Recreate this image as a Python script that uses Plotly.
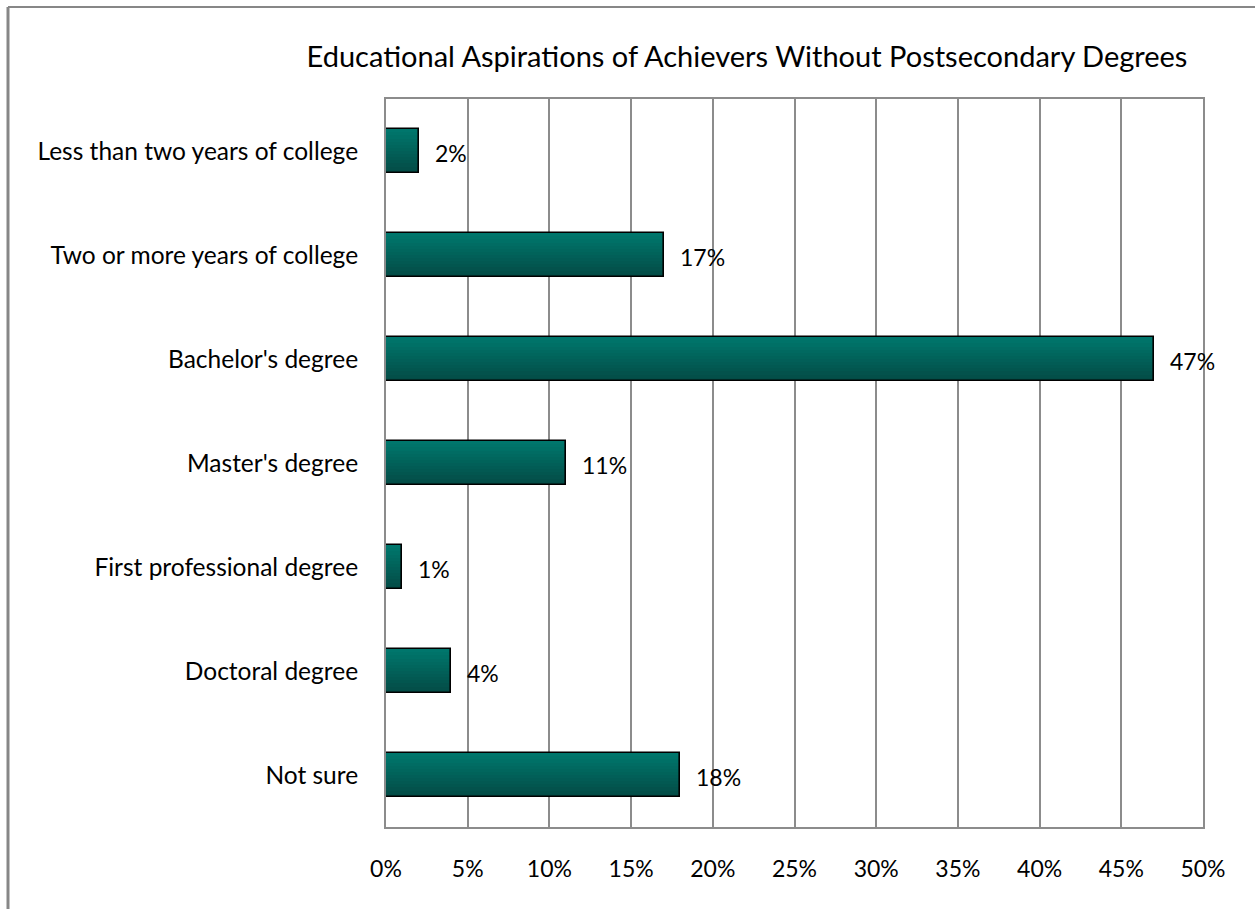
import plotly.graph_objects as go

categories = [
    "Less than two years of college",
    "Two or more years of college",
    "Bachelor's degree",
    "Master's degree",
    "First professional degree",
    "Doctoral degree",
    "Not sure",
]
values = [2, 17, 47, 11, 1, 4, 18]
x_ticks = [0, 5, 10, 15, 20, 25, 30, 35, 40, 45, 50]
x_tick_labels = [f"{t}%" for t in x_ticks]
title_text = "Educational Aspirations of Achievers Without Postsecondary Degrees"

FONT = "Lato, 'Open Sans', sans-serif"
GRID = "#8c8c8c"

# Vertical gradient: bars are built from thin stacked bands (lighter at top)
top_rgb = (0, 118, 108)
bot_rgb = (3, 76, 70)
n_bands = 14
bar_w = 0.42

fig = go.Figure()
for i in range(n_bands):
    t = i / (n_bands - 1)
    r, g, b = (round(a + (c - a) * t) for a, c in zip(top_rgb, bot_rgb))
    fig.add_trace(go.Bar(
        x=values, y=categories, orientation="h",
        width=bar_w / n_bands + 0.002,
        offset=-bar_w / 2 + i * bar_w / n_bands,
        marker=dict(color=f"rgb({r},{g},{b})", line=dict(width=0)),
        hoverinfo="skip", showlegend=False,
    ))

# outline on top of the bands
fig.add_trace(go.Bar(
    x=values, y=categories, orientation="h",
    width=bar_w, offset=-bar_w / 2,
    marker=dict(color="rgba(0,0,0,0)", line=dict(color="#000000", width=1.6)),
    showlegend=False,
))

# value labels just past each bar end
for cat, v in zip(categories, values):
    fig.add_annotation(
        x=v, y=cat, text=f"{v}%", showarrow=False,
        xanchor="left", xshift=14, yshift=-2,
        font=dict(family=FONT, size=23, color="#000000"),
    )

L, R, T, B = 386, 52, 99, 82
W, H = 1255, 909
pw, ph = W - L - R, H - T - B

# outer chart frame (top and left edges)
fx = (8 - L) / pw
fy = (H - B - 7) / ph
fig.add_shape(type="line", xref="paper", yref="paper",
              x0=fx, y0=fy, x1=(W + 10 - L) / pw, y1=fy,
              line=dict(color="#878787", width=2))
fig.add_shape(type="line", xref="paper", yref="paper",
              x0=fx, y0=fy, x1=fx, y1=-(B + 10) / ph,
              line=dict(color="#878787", width=3))

fig.update_layout(
    width=W, height=H,
    margin=dict(l=L, r=R, t=T, b=B, pad=0),
    barmode="overlay",
    bargap=0,
    paper_bgcolor="white",
    plot_bgcolor="white",
    title=dict(text=title_text, x=747 / W, xanchor="center",
               y=1 - 57 / H, yanchor="middle",
               font=dict(family=FONT, size=29, color="#000000")),
    xaxis=dict(
        range=[0, 50], tickvals=x_ticks, ticktext=x_tick_labels,
        showgrid=True, gridcolor=GRID, gridwidth=2,
        showline=True, linecolor=GRID, linewidth=2, mirror=True,
        zeroline=False, ticks="", ticklabelstandoff=20,
        tickfont=dict(family=FONT, size=23, color="#000000"),
        fixedrange=True,
    ),
    yaxis=dict(
        categoryorder="array", categoryarray=categories,
        autorange="reversed",
        showgrid=False,
        showline=True, linecolor=GRID, linewidth=2, mirror=True,
        ticks="", ticklabelstandoff=21,
        tickfont=dict(family=FONT, size=24.5, color="#000000"),
        fixedrange=True,
    ),
)

fig.write_html("out.html")
